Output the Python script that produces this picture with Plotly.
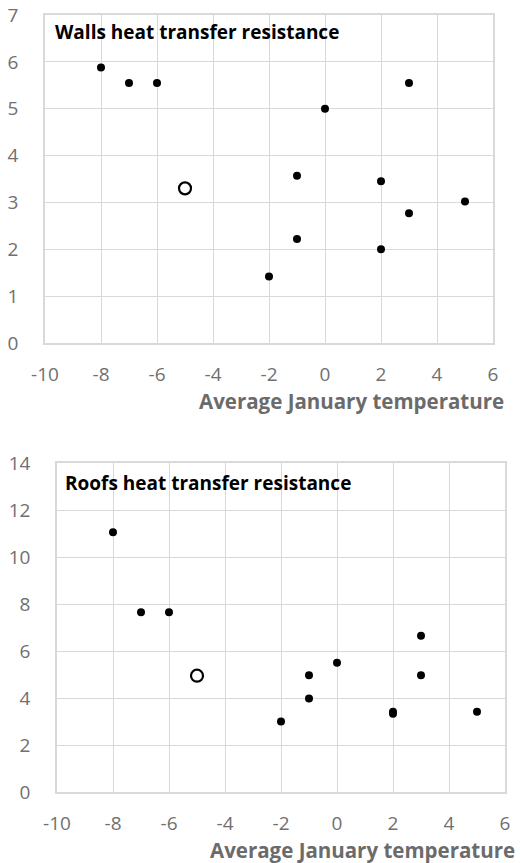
import plotly.graph_objects as go

W, H = 520, 863

# Walls data
walls_x = [-8, -7, -6, -2, -1, -1, 0, 2, 2, 3, 3, 5]
walls_y = [5.88, 5.55, 5.55, 1.42, 3.57, 2.22, 5.0, 3.45, 2.0, 5.55, 2.77, 3.02]
walls_open_x = [-5]
walls_open_y = [3.3]

# Roofs data
roofs_x = [-8, -7, -6, -2, -1, -1, 0, 2, 2, 3, 3, 5]
roofs_y = [11.05, 7.65, 7.65, 3.0, 4.97, 3.98, 5.5, 3.33, 3.42, 6.65, 4.97, 3.42]
roofs_open_x = [-5]
roofs_open_y = [4.95]

x_ticks = [-10, -8, -6, -4, -2, 0, 2, 4, 6]
walls_yticks = [0, 1, 2, 3, 4, 5, 6, 7]
roofs_yticks = [0, 2, 4, 6, 8, 10, 12, 14]

FONT = "Open Sans"
TICKC = "#707070"
GRID = "#d9d9d9"

def px(xp):
    return xp / W

def py(yp):
    return 1 - yp / H

fig = go.Figure()

dot = dict(size=8, color="black")
ring = dict(size=12, color="white", line=dict(color="black", width=2.2))

fig.add_trace(go.Scatter(x=walls_x, y=walls_y, mode="markers", marker=dot,
                         xaxis="x", yaxis="y", showlegend=False))
fig.add_trace(go.Scatter(x=walls_open_x, y=walls_open_y, mode="markers", marker=ring,
                         xaxis="x", yaxis="y", showlegend=False))
fig.add_trace(go.Scatter(x=roofs_x, y=roofs_y, mode="markers", marker=dot,
                         xaxis="x2", yaxis="y2", showlegend=False))
fig.add_trace(go.Scatter(x=roofs_open_x, y=roofs_open_y, mode="markers", marker=ring,
                         xaxis="x2", yaxis="y2", showlegend=False))

def xaxis_cfg(dom, anchor):
    return dict(domain=dom, anchor=anchor, range=[-10, 6], tickvals=x_ticks,
                ticktext=[str(v) for v in x_ticks], automargin=False,
                showgrid=True, gridcolor=GRID, gridwidth=1,
                showline=True, linecolor=GRID, linewidth=1.5, mirror=True,
                zeroline=False, ticks="outside", ticklen=13, tickcolor="rgba(0,0,0,0)",
                ticklabeloverflow="allow",
                tickfont=dict(family=FONT, size=19, color=TICKC), fixedrange=True)

def yaxis_cfg(dom, anchor, rng, tv):
    return dict(domain=dom, anchor=anchor, range=rng, tickvals=tv,
                ticktext=[str(v) for v in tv], automargin=False,
                showgrid=True, gridcolor=GRID, gridwidth=1,
                showline=True, linecolor=GRID, linewidth=1.5, mirror=True,
                zeroline=False, ticks="outside", ticklen=21, tickcolor="rgba(0,0,0,0)",
                ticklabeloverflow="allow",
                tickfont=dict(family=FONT, size=19, color=TICKC), fixedrange=True)

fig.update_layout(
    width=W, height=H,
    margin=dict(l=0, r=0, t=0, b=0, autoexpand=False),
    paper_bgcolor="white", plot_bgcolor="white",
    xaxis=xaxis_cfg([px(45), px(493)], "y"),
    yaxis=yaxis_cfg([py(343), py(15)], "x", [0, 7], walls_yticks),
    xaxis2=xaxis_cfg([px(57), px(505)], "y2"),
    yaxis2=yaxis_cfg([py(792), py(463)], "x2", [0, 14], roofs_yticks),
)

annots = [
    dict(text="<b>Walls heat transfer resistance</b>", x=px(53), y=py(32),
         xanchor="left", yanchor="middle", font=dict(family=FONT, size=19, color="black")),
    dict(text="<b>Average January temperature</b>", x=px(506), y=py(401),
         xanchor="right", yanchor="middle", font=dict(family=FONT, size=20.5, color="#6b6b6b")),
    dict(text="<b>Roofs heat transfer resistance</b>", x=px(63), y=py(483),
         xanchor="left", yanchor="middle", font=dict(family=FONT, size=19, color="black")),
    dict(text="<b>Average January temperature</b>", x=px(517), y=py(850),
         xanchor="right", yanchor="middle", font=dict(family=FONT, size=20.5, color="#6b6b6b")),
]
for a in annots:
    a.update(xref="paper", yref="paper", showarrow=False)
fig.update_layout(annotations=annots)

fig.write_html("out.html", config={"displayModeBar": False},
               post_script="document.body.style.margin='0';document.body.style.overflow='hidden';")
